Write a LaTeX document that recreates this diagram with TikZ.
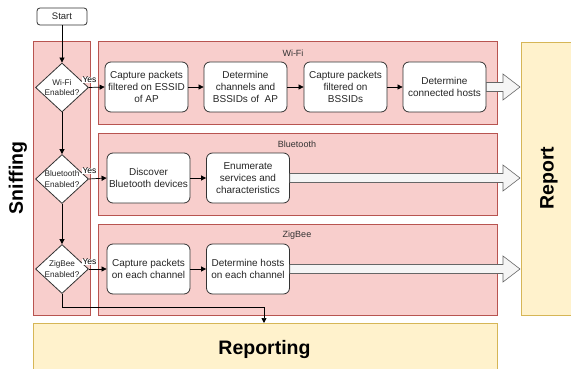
\documentclass[tikz,border=0pt]{standalone}
\usepackage{fontspec}
\setmainfont{Liberation Sans}
\usetikzlibrary{arrows.meta,calc,shapes.geometric}
\definecolor{lanefill}{HTML}{F8CECC}
\definecolor{laneline}{HTML}{B85450}
\definecolor{repfill}{HTML}{FFF2CC}
\definecolor{repline}{HTML}{D6B656}
\definecolor{bigfill}{HTML}{F5F5F5}
\definecolor{bigline}{HTML}{666666}
\begin{document}
\begin{tikzpicture}[x=1pt,y=-1pt,
 lane/.style={draw=laneline,fill=lanefill,line width=0.8pt},
 rep/.style={draw=repline,fill=repfill,line width=0.8pt},
 proc/.style={draw=black!80,fill=white,rounded corners=6pt,minimum width=83pt,minimum height=50pt,align=center,font=\fontsize{10}{12}\selectfont,text=black!85,inner sep=1pt,line width=0.8pt},
 dec/.style={diamond,draw=black!80,fill=white,minimum width=53pt,minimum height=49pt,aspect=1.08,inner sep=-2.5pt,align=center,font=\fontsize{8.2}{10.5}\selectfont,text=black!85,line width=0.8pt},
 flow/.style={-{Triangle[length=5pt,width=5pt]},line width=0.7pt},
 big/.style={draw=bigline,fill=bigfill,line width=0.6pt},
 lanelabel/.style={font=\fontsize{9}{11}\selectfont,text=black!80},
 title/.style={font=\bfseries\fontsize{19.5}{23}\selectfont},
 yes/.style={fill=white,inner sep=0.5pt,font=\fontsize{8.5}{10}\selectfont},
]
\useasboundingbox[fill=white] (0,0) rectangle (571,369);
% containers
\draw[lane] (33,41) rectangle (90,315);
\draw[lane] (98,41) rectangle (497,124);
\draw[lane] (98,133) rectangle (497,215);
\draw[lane] (98,224) rectangle (497,315);
\draw[rep] (521,42) rectangle (576,315);
\draw[rep] (33,323) rectangle (497,380);
% titles
\node[title,rotate=90] (sniffing) at (18,178) {Sniffing};
\node[title,rotate=90] (report) at (549,178) {Report};
\node[title] (reporting) at (264.5,349) {Reporting};
\node[lanelabel] (lwifi) at (293,53) {Wi-Fi};
\node[lanelabel] (lbt) at (297,144) {Bluetooth};
\node[lanelabel] (lzb) at (297,235) {ZigBee};
% start and decisions
\node[proc,minimum width=50pt,minimum height=17pt,rounded corners=3pt,font=\fontsize{9.5}{11}\selectfont] (start) at (62,16.5) {Start};
\node[dec] (d1) at (62,87.5) {Wi-Fi\\Enabled?};
\node[dec] (d2) at (62,179) {Bluetooth\\Enabled?};
\node[dec] (d3) at (62,269) {ZigBee\\Enabled?};
% processes
\node[proc] (w1) at (146.5,87) {Capture packets\\filtered on ESSID\\of AP};
\node[proc] (w2) at (245.5,87) {Determine\\channels and\\BSSIDs of\ \ AP};
\node[proc] (w3) at (345.5,87) {Capture packets\\filtered on\\BSSIDs};
\node[proc] (w4) at (444.5,87) {Determine\\connected hosts};
\node[proc] (b1) at (148.5,178) {Discover\\Bluetooth devices};
\node[proc] (b2) at (248,178) {Enumerate\\services and\\characteristics};
\node[proc] (z1) at (148.5,269) {Capture packets\\on each channel};
\node[proc] (z2) at (248,269) {Determine hosts\\on each channel};
% big arrows
\coordinate (wtip) at (520,87);
\coordinate (btip) at (520,178);
\coordinate (ztip) at (520,269);
\foreach \src/\tip in {w4/wtip,b2/btip,z2/ztip}{
  \draw[big] ($(\src.east)+(0,-4.5)$) -- ($(\tip)+(-17,-4.5)$) -- ($(\tip)+(-17,-13)$) -- (\tip)
    -- ($(\tip)+(-17,13)$) -- ($(\tip)+(-17,4.5)$) -- ($(\src.east)+(0,4.5)$) -- cycle;
}
% flow
\draw[flow] (start) -- (d1);
\draw[flow] (d1) -- (d2);
\draw[flow] (d2) -- (d3);
\draw[flow] (d1.east) -- (w1.west);
\draw[flow] (d2.east) -- (b1.west);
\draw[flow] (d3.east) -- (z1.west);
\node[yes] (y1) at (89.5,80) {Yes};
\node[yes] (y2) at (89.5,171) {Yes};
\node[yes] (y3) at (89.5,262) {Yes};
\draw[flow] (w1) -- (w2);
\draw[flow] (w2) -- (w3);
\draw[flow] (w3) -- (w4);
\draw[flow] (b1) -- (b2);
\draw[flow] (z1) -- (z2);
\coordinate (rtop) at (264,323);
\draw[flow] (d3.south) -- ++(0,13.5) -| (rtop);
\end{tikzpicture}
\end{document}
